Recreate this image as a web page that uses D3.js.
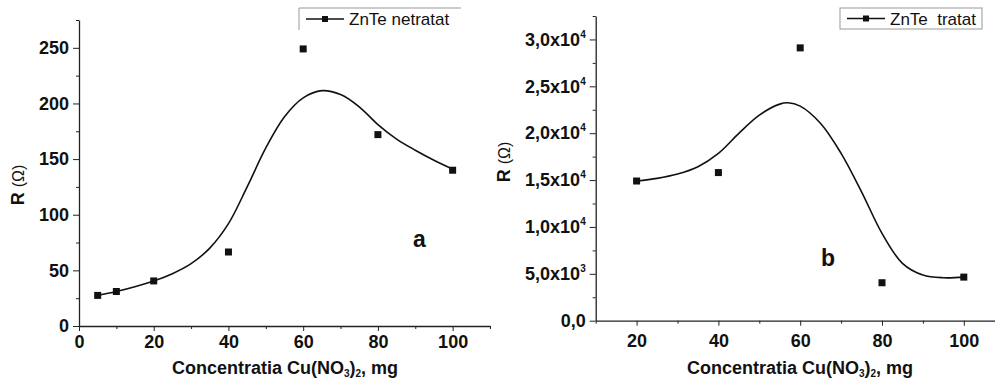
<!DOCTYPE html>
<html>
<head>
<meta charset="utf-8">
<script src="https://cdn.jsdelivr.net/npm/d3@7"></script>
<style>
  body { margin: 0; background: #fff; }
  svg text { font-family: "Liberation Sans", Arial, sans-serif; }
  .domain, .tick line { stroke: #222; }
</style>
</head>
<body>
<svg id="chart" width="995" height="380"></svg>
<script>
// panel a - ZnTe netratat
var concA = [5, 10, 20, 40, 60, 80, 100];
var resA = [27.5, 31, 40.5, 66.5, 249, 172, 140];
var fitXA = [5, 10, 20, 25, 30, 35, 40, 45, 50, 55, 60, 65, 70, 75, 80, 85, 90, 95, 100];
var fitYA = [27.5, 31, 40.5, 47, 56, 70, 92, 125, 160, 188, 205, 211.5, 208, 197, 181, 168, 158, 149, 141];
var xTicksA = [0, 20, 40, 60, 80, 100];
var yTicksA = [0, 50, 100, 150, 200, 250];

// panel b - ZnTe tratat
var concB = [20, 40, 60, 80, 100];
var resB = [14900, 15800, 29100, 4050, 4650];
var fitXB = [20, 25, 30, 35, 40, 45, 50, 55, 57, 60, 65, 70, 75, 80, 85, 90, 95, 100];
var fitYB = [14900, 15180, 15640, 16420, 17840, 19980, 21930, 23100, 23240, 22890, 21040, 17850, 13750, 9320, 6120, 4870, 4580, 4650];
var xTicksB = [20, 40, 60, 80, 100];
var yTicksB = [0, 5000, 10000, 15000, 20000, 25000, 30000];

var svg = d3.select("#chart");

function drawPanel(p) {
    var x = d3.scaleLinear().domain(p.xDomain).range(p.xRange);
    var y = d3.scaleLinear().domain(p.yDomain).range(p.yRange);
    var g = svg.append("g");

    // minor ticks first, then major axes on top
    g.append("g")
        .attr("transform", "translate(0," + p.yRange[0] + ")")
        .call(d3.axisBottom(x).tickValues(p.xMinor).tickSize(3).tickFormat(""))
        .select(".domain").remove();
    g.append("g")
        .attr("transform", "translate(" + p.xRange[0] + ",0)")
        .call(d3.axisLeft(y).tickValues(p.yMinor).tickSize(3).tickFormat(""))
        .select(".domain").remove();

    var xAxis = g.append("g")
        .attr("transform", "translate(0," + p.yRange[0] + ")")
        .call(d3.axisBottom(x).tickValues(p.xTicks).tickSize(5).tickSizeOuter(0).tickPadding(p.xPad));
    var yAxis = g.append("g")
        .attr("transform", "translate(" + p.xRange[0] + ",0)")
        .call(d3.axisLeft(y).tickValues(p.yTicks).tickSize(6).tickSizeOuter(0).tickPadding(4));
    g.selectAll(".domain").attr("stroke-width", 1.3);
    g.selectAll(".tick text")
        .attr("font-family", "'Liberation Sans', Arial, sans-serif")
        .attr("font-weight", "bold")
        .attr("font-size", 18)
        .attr("fill", "#111");

    if (p.sciLabels) {
        yAxis.selectAll(".tick text").each(function (d) {
            var t = d3.select(this).text("");
            if (d === 0) { t.text("0,0"); return; }
            var e = Math.floor(Math.log10(d));
            var m = (d / Math.pow(10, e)).toFixed(1).replace(".", ",");
            t.append("tspan").text(m + "x10");
            t.append("tspan").attr("dy", -8).attr("font-size", 10).text(e);
        });
    }

    var line = d3.line()
        .x(function (d) { return x(d[0]); })
        .y(function (d) { return y(d[1]); })
        .curve(d3.curveCatmullRom);

    g.append("path")
        .datum(d3.zip(p.fitX, p.fitY))
        .attr("d", line)
        .attr("fill", "none")
        .attr("stroke", "#111")
        .attr("stroke-width", 1.6);

    g.selectAll("rect.pt")
        .data(d3.zip(p.cx, p.cy)).enter().append("rect")
        .attr("class", "pt")
        .attr("x", function (d) { return x(d[0]) - 3.5; })
        .attr("y", function (d) { return y(d[1]) - 3.5; })
        .attr("width", 7).attr("height", 7)
        .attr("fill", "#111");

    // axis titles
    var xt = g.append("text")
        .attr("x", p.xTitle[0]).attr("y", p.xTitle[1])
        .attr("text-anchor", "middle")
        .attr("font-weight", "bold").attr("font-size", 18).attr("fill", "#111");
    xt.append("tspan").text("Concentratia Cu(NO");
    xt.append("tspan").attr("font-size", 10).attr("dy", 3).text("3");
    xt.append("tspan").attr("dy", -3).text(")");
    xt.append("tspan").attr("font-size", 10).attr("dy", 3).text("2");
    xt.append("tspan").attr("dy", -3).text(", mg");

    var yt = g.append("text")
        .attr("transform", "translate(" + p.yTitle[0] + "," + p.yTitle[1] + ") rotate(-90)")
        .attr("text-anchor", "middle").attr("fill", "#111").attr("font-size", 18);
    yt.append("tspan").attr("font-weight", "bold").text("R ");
    yt.append("tspan").attr("font-size", 16).text("(Ω)");

    // panel letter
    g.append("text")
        .attr("x", p.letterPos[0]).attr("y", p.letterPos[1])
        .attr("font-weight", "bold").attr("font-size", 23).attr("fill", "#111")
        .text(p.letter);

    // legend
    var lg = g.append("g");
    var b = p.legendBox;
    if (p.legendFull) {
        lg.append("rect").attr("x", b[0]).attr("y", b[1]).attr("width", b[2]).attr("height", b[3])
            .attr("fill", "#fff").attr("stroke", "#999");
    } else {
        lg.append("path")
            .attr("d", "M" + b[0] + "," + (b[1] + b[3]) + "V" + b[1] + "H" + (b[0] + b[2]))
            .attr("fill", "none").attr("stroke", "#999");
    }
    var ly = b[1] + b[3] / 2;
    lg.append("line").attr("x1", b[0] + 7).attr("x2", b[0] + 45).attr("y1", ly).attr("y2", ly)
        .attr("stroke", "#111").attr("stroke-width", 1.6);
    lg.append("rect").attr("x", b[0] + 23).attr("y", ly - 3).attr("width", 6).attr("height", 6).attr("fill", "#111");
    lg.append("text").attr("x", b[0] + 50).attr("y", ly + 6)
        .attr("font-size", 17).attr("fill", "#111")
        .style("white-space", "pre")
        .text(p.legendText);
}

drawPanel({
    xDomain: [0, 110], xRange: [79, 490],
    yDomain: [0, 275], yRange: [326, 20],
    xTicks: xTicksA, yTicks: yTicksA,
    xMinor: [10, 30, 50, 70, 90, 110], yMinor: [25, 75, 125, 175, 225, 275],
    xPad: 4,
    cx: concA, cy: resA, fitX: fitXA, fitY: fitYA,
    xTitle: [285, 374], yTitle: [24, 185],
    letter: "a", letterPos: [413, 247],
    legendBox: [299, 8, 162, 22], legendFull: false, legendText: "ZnTe netratat"
});

drawPanel({
    xDomain: [10, 110], xRange: [595.7, 1004.7],
    yDomain: [0, 32500], yRange: [320.7, 16],
    xTicks: xTicksB, yTicks: yTicksB,
    xMinor: [10, 30, 50, 70, 90, 110], yMinor: [2500, 7500, 12500, 17500, 22500, 27500, 32500],
    xPad: 9,
    cx: concB, cy: resB, fitX: fitXB, fitY: fitYB,
    sciLabels: true,
    xTitle: [800, 374], yTitle: [510, 162],
    letter: "b", letterPos: [821, 266],
    legendBox: [840, 8, 142, 21], legendFull: true, legendText: "ZnTe  tratat"
});
</script>
</body>
</html>
